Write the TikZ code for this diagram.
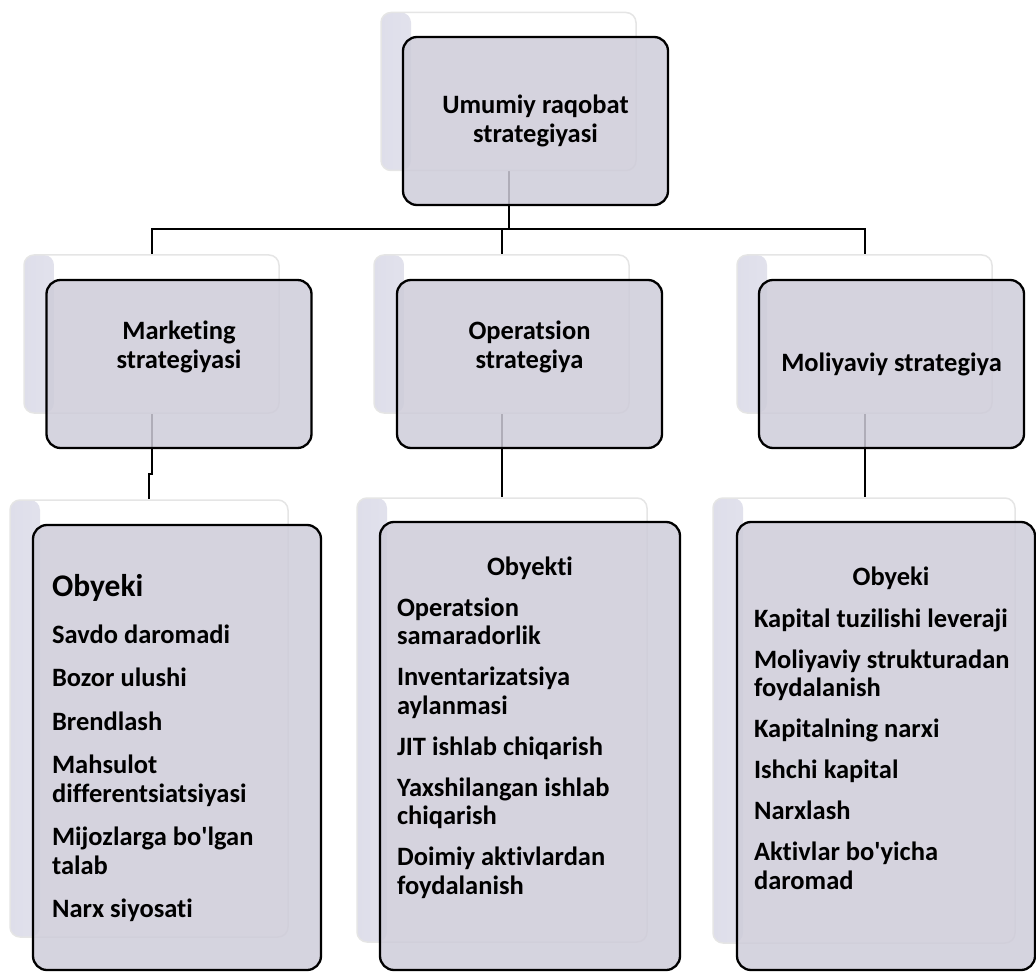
\documentclass[tikz,border=0pt]{standalone}
\usepackage{fontspec}
\setmainfont{Carlito}[Ligatures=NoCommon]
\usetikzlibrary{positioning,backgrounds}
\definecolor{boxfill}{RGB}{206,204,217}
\definecolor{bevel}{RGB}{222,222,234}
\tikzset{
  backbox/.style={draw=black!10, line width=1.5pt, fill=white, rounded corners=10pt,
    inner sep=0pt, minimum width=255pt, minimum height=158pt,
    path picture={\shade[left color=bevel, right color=white]
      (path picture bounding box.south west) rectangle ([xshift=30pt]path picture bounding box.north west);}},
  frontbox/.style={draw=black, line width=2.3pt, fill=boxfill, fill opacity=0.85,
    rounded corners=14pt, inner sep=0pt, minimum width=265pt, minimum height=168pt},
  title/.style={font=\bfseries\fontsize{26.5}{28.5}\selectfont, align=center, inner sep=0pt},
  items/.style={font=\bfseries\fontsize{26.5}{28.5}\selectfont, align=left, anchor=north west, inner sep=0pt},
  link/.style={draw=black, line width=2pt}
}
\begin{document}
\begin{tikzpicture}[x=1pt,y=-1pt]
    \useasboundingbox (0,0) rectangle (1036,973);
    % top
    \node[backbox] (topb) at (508.5,91.5) {};
    \path (topb) +(27,29.5) node[frontbox] (top) {};
    \node[title] (top-t) at (top) {Umumiy raqobat\\strategiyasi};
    % middle row
    \node[backbox] (lmidb) at (151.5,334) {};
    \path (lmidb) +(27.5,30) node[frontbox] (lmid) {};
    \path (lmid) +(0,-17) node[title] (lmid-t) {Marketing\\strategiyasi};
    \node[backbox] (mmidb) at (501.5,334) {};
    \path (mmidb) +(28,30) node[frontbox] (mmid) {};
    \path (mmid) +(0,-17) node[title] (mmid-t) {Operatsion\\strategiya};
    \node[backbox] (rmidb) at (864.5,334) {};
    \path (rmidb) +(27,30) node[frontbox] (rmid) {};
    \node[title] (rmid-t) at (rmid) {Moliyaviy strategiya};
    % bottom row
    \node[backbox,minimum width=278pt,minimum height=437pt] (lbotb) at (149,718.5) {};
    \path (lbotb) +(28,29) node[frontbox,minimum width=288pt,minimum height=445pt] (lbot) {};
    \node[backbox,minimum width=290pt,minimum height=444pt] (mbotb) at (502,720) {};
    \path (mbotb) +(28,26) node[frontbox,minimum width=300pt,minimum height=448pt] (mbot) {};
    \node[backbox,minimum width=302pt,minimum height=445pt] (rbotb) at (864,720.5) {};
    \path (rbotb) +(22,25.5) node[frontbox,minimum width=298pt,minimum height=448pt] (rbot) {};

    \path (lbot.north west) +(20,73) node[items,anchor=base west,font=\bfseries\fontsize{31.5}{33}\selectfont] (lbot-h) {Obyeki};
    \path (lbot.north west) +(20,99) node[items] (lbot-t) {\strut Savdo daromadi\\[15pt]
      Bozor ulushi\\[15pt]
      Brendlash\\[15pt]
      Mahsulot\\differentsiatsiyasi\\[15pt]
      Mijozlarga bo\textquotesingle lgan\\talab\\[15pt]
      Narx siyosati};
    \path (mbot.north) +(0,55) node[title,anchor=base] (mbot-h) {Obyekti};
    \path (mbot.north west) +(18,75) node[items] (mbot-t) {\strut Operatsion\\samaradorlik\\[12.5pt]
      Inventarizatsiya\\aylanmasi\\[12.5pt]
      JIT ishlab chiqarish\\[12.5pt]
      Yaxshilangan ishlab\\chiqarish\\[12.5pt]
      Doimiy aktivlardan\\foydalanish};
    \path (rbot.north) +(5,65) node[title,anchor=base] (rbot-h) {Obyeki};
    \path (rbot.north west) +(18,86) node[items] (rbot-t) {\strut Kapital tuzilishi leveraji\\[12.5pt]
      Moliyaviy strukturadan\\foydalanish\\[12.5pt]
      Kapitalning narxi\\[12.5pt]
      Ishchi kapital\\[12.5pt]
      Narxlash\\[12.5pt]
      Aktivlar bo\textquotesingle yicha\\daromad};

    \begin{scope}[on background layer]
      \coordinate (fork) at (506,229);
      \draw[link] (topb.south) -- (topb.south |- fork);
      \draw[link] (lmidb.north) |- (rmidb.north |- fork) -- (rmidb.north);
      \draw[link] (mmidb.north) -- (mmidb.north |- fork);
      \draw[link] (lmidb.south) -- ++(0,60) -| (lbotb.north);
      \draw[link] (mmidb.south) -- (mmidb.south |- mbotb.north);
      \draw[link] (rmidb.south) -- (rmidb.south |- rbotb.north);
    \end{scope}
\end{tikzpicture}
\end{document}
